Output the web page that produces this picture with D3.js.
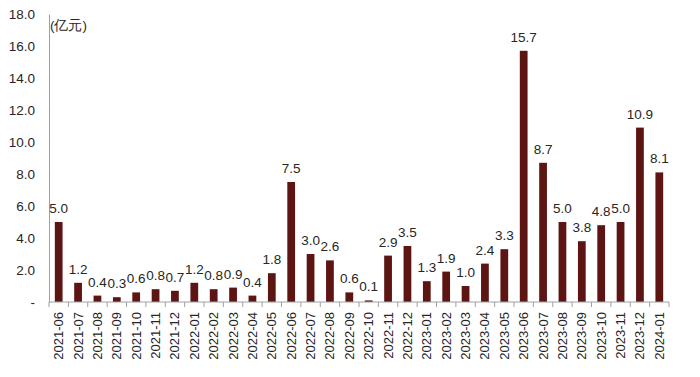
<!DOCTYPE html>
<html>
<head>
<meta charset="utf-8">
<script src="https://d3js.org/d3.v7.min.js"></script>
<style>
  body { margin: 0; background: #fff; }
  text { font-family: "Liberation Sans", Arial, sans-serif; fill: #262626; }
</style>
</head>
<body>
<svg id="chart" width="700" height="377"></svg>
<script>
const months = [
  '2021-06','2021-07','2021-08','2021-09','2021-10','2021-11','2021-12',
  '2022-01','2022-02','2022-03','2022-04','2022-05','2022-06','2022-07','2022-08','2022-09','2022-10','2022-11','2022-12',
  '2023-01','2023-02','2023-03','2023-04','2023-05','2023-06','2023-07','2023-08','2023-09','2023-10','2023-11','2023-12',
  '2024-01'
];
const amounts = [5.0, 1.2, 0.4, 0.3, 0.6, 0.8, 0.7, 1.2, 0.8, 0.9, 0.4, 1.8, 7.5, 3.0, 2.6, 0.6, 0.1, 2.9, 3.5,
  1.3, 1.9, 1.0, 2.4, 3.3, 15.7, 8.7, 5.0, 3.8, 4.8, 5.0, 10.9, 8.1];
const yTicks = [0, 2, 4, 6, 8, 10, 12, 14, 16, 18];
const unitLabel = '(亿元)';

const svg = d3.select('#chart');
const mLeft = 49, mRight = 669, mTop = 14, mBottom = 302;

const x = d3.scaleBand().domain(months).range([mLeft, mRight]).paddingInner(0.6).paddingOuter(0.3);
const y = d3.scaleLinear().domain([0, 18]).range([mBottom, mTop]);

// y axis
const yAxis = svg.append('g')
    .attr('transform', `translate(${mLeft},0)`)
    .call(d3.axisLeft(y).tickValues(yTicks).tickSize(0).tickPadding(14)
      .tickFormat(d => d === 0 ? '-' : d.toFixed(1)));
yAxis.select('.domain').attr('stroke', '#a0a0a0');
yAxis.selectAll('text').style('font-size', '13.5px');

// bars
svg.append('g').selectAll('rect')
  .data(amounts)
  .join('rect')
    .attr('x', (d, i) => x(months[i]))
    .attr('y', d => y(d))
    .attr('width', x.bandwidth())
    .attr('height', d => mBottom - y(d))
    .attr('fill', '#5c1513');

// value labels
svg.append('g').selectAll('text')
  .data(amounts)
  .join('text')
    .attr('x', (d, i) => x(months[i]) + x.bandwidth() / 2)
    .attr('y', d => y(d) - 9)
    .attr('text-anchor', 'middle')
    .style('font-size', '13.5px')
    .text(d => d.toFixed(1));

// x axis with ticks at category boundaries
const xAxis = svg.append('g')
    .attr('transform', `translate(0,${mBottom})`);
xAxis.append('line')
    .attr('x1', mLeft).attr('x2', mRight)
    .attr('stroke', '#a0a0a0');
xAxis.selectAll('line.tick')
  .data(d3.range(months.length + 1))
  .join('line')
    .attr('class', 'tick')
    .attr('x1', i => mLeft + i * (mRight - mLeft) / months.length)
    .attr('x2', i => mLeft + i * (mRight - mLeft) / months.length)
    .attr('y1', 0).attr('y2', 5)
    .attr('stroke', '#a0a0a0');
xAxis.selectAll('text')
  .data(months)
  .join('text')
    .attr('transform', d => `translate(${x(d) + x.bandwidth() / 2 + 4.5},10) rotate(-90)`)
    .attr('text-anchor', 'end')
    .style('font-size', '13px')
    .text(d => d);

svg.append('text')
    .attr('x', 50).attr('y', 30)
    .style('font-size', '13.5px')
    .text(unitLabel);
</script>
</body>
</html>
